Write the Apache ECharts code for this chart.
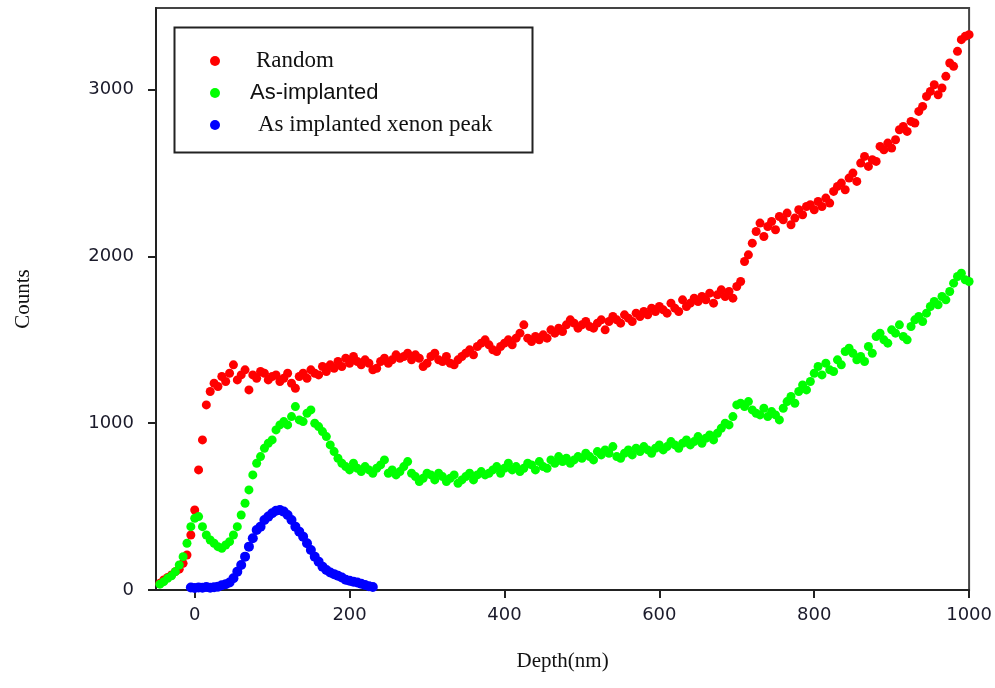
<!DOCTYPE html>
<html><head><meta charset="utf-8">
<script src="https://cdn.jsdelivr.net/npm/echarts@6/dist/echarts.min.js"></script>
<style>html,body{margin:0;padding:0;background:#fff}#c{width:995px;height:688px}</style>
</head><body><div id="c"></div>
<script>
var seriesNames = ['Random', 'As-implanted', 'As implanted xenon peak'];
var xTicks = [0, 200, 400, 600, 800, 1000];
var yTicks = [0, 1000, 2000, 3000];

var depthRG = [
 -45,-40,-35,-30,-25,-20,-15,-10,-5,0,5,10,15,20,25,30,35,40,45,50,
 55,60,65,70,75,80,85,90,95,100,105,110,115,120,125,130,135,140,145,150,
 155,160,165,170,175,180,185,190,195,200,205,210,215,220,225,230,235,240,245,250,
 255,260,265,270,275,280,285,290,295,300,305,310,315,320,325,330,335,340,345,350,
 355,360,365,370,375,380,385,390,395,400,405,410,415,420,425,430,435,440,445,450,
 455,460,465,470,475,480,485,490,495,500,505,510,515,520,525,530,535,540,545,550,
 555,560,565,570,575,580,585,590,595,600,605,610,615,620,625,630,635,640,645,650,
 655,660,665,670,675,680,685,690,695,700,705,710,715,720,725,730,735,740,745,750,
 755,760,765,770,775,780,785,790,795,800,805,810,815,820,825,830,835,840,845,850,
 855,860,865,870,875,880,885,890,895,900,905,910,915,920,925,930,935,940,945,950,
 955,960,965,970,975,980,985,990,995,1000
];
var randomCounts = [
 40,60,75,90,110,125,160,210,330,480,720,900,1110,1190,1240,1220,1280,1250,1300,1350,
 1260,1290,1320,1200,1290,1270,1310,1300,1260,1280,1290,1250,1270,1300,1240,1210,1280,1300,1270,1320,
 1300,1290,1340,1310,1350,1330,1370,1340,1390,1360,1400,1370,1350,1380,1360,1320,1330,1370,1390,1360,
 1380,1410,1390,1400,1420,1380,1410,1390,1340,1360,1400,1420,1380,1370,1400,1360,1350,1380,1400,1420,
 1440,1410,1460,1480,1500,1470,1440,1430,1460,1480,1500,1470,1510,1540,1590,1510,1490,1520,1500,1530,
 1510,1560,1540,1570,1550,1590,1620,1600,1570,1590,1610,1580,1570,1600,1620,1560,1610,1640,1620,1600,
 1650,1630,1610,1660,1640,1670,1650,1690,1670,1700,1680,1660,1720,1690,1670,1740,1700,1720,1750,1730,
 1760,1740,1780,1720,1770,1800,1760,1790,1750,1820,1850,1970,2010,2080,2150,2200,2120,2180,2210,2160,
 2240,2220,2260,2190,2230,2280,2250,2300,2310,2280,2330,2300,2350,2320,2390,2420,2440,2400,2470,2500,
 2450,2560,2600,2540,2580,2570,2660,2640,2680,2650,2700,2760,2780,2750,2810,2800,2870,2900,2960,2990,
 3030,2970,3010,3080,3160,3140,3230,3300,3320,3330
];
var implantedCounts = [
 35,50,70,85,110,150,200,280,380,430,440,380,330,300,280,260,250,270,290,330,
 380,450,520,600,690,760,800,850,880,900,960,990,1010,990,1040,1100,1020,1010,1060,1080,
 1000,980,950,920,870,830,790,760,740,720,760,730,710,740,720,700,730,750,780,700,
 720,690,710,740,770,700,680,650,670,700,690,660,700,680,650,670,690,640,660,680,
 700,660,690,710,690,700,720,740,700,730,760,720,740,710,730,760,750,720,770,740,
 730,780,760,800,770,790,760,780,800,790,820,800,780,830,810,840,820,860,800,790,
 820,840,810,850,830,860,840,820,850,870,840,860,890,870,850,880,900,870,890,920,
 880,910,930,900,940,970,1000,990,1040,1110,1120,1100,1130,1080,1060,1050,1090,1040,1070,1050,
 1020,1090,1130,1160,1120,1190,1230,1200,1250,1300,1340,1290,1360,1320,1310,1380,1350,1430,1450,1420,
 1380,1400,1370,1460,1420,1520,1540,1500,1480,1560,1540,1590,1520,1500,1580,1620,1640,1610,1660,1700,
 1730,1710,1760,1740,1790,1840,1880,1900,1860,1850
];
var depthXe = [
 -5,0,5,10,15,20,25,30,35,40,45,50,55,60,65,70,75,80,85,90,
 95,100,105,110,115,120,125,130,135,140,145,150,155,160,165,170,175,180,185,190,
 195,200,205,210,215,220,225,230
];
var xenonCounts = [
 15,12,15,14,18,14,16,20,28,35,45,70,110,150,200,260,310,360,380,420,
 440,460,475,480,470,450,420,380,350,320,280,240,200,170,140,120,105,95,85,75,
 62,55,50,45,38,30,22,18
];

function pairs(xs, ys) { var out = []; for (var i = 0; i < xs.length; i++) out.push([xs[i], ys[i]]); return out; }
function plain(v) { return String(v); }

var serif = 'Liberation Serif';
var sans = 'Liberation Sans';
var chart = echarts.init(document.getElementById('c'), null, {renderer: 'canvas'});
chart.setOption({
  animation: false,
  backgroundColor: '#ffffff',
  grid: {left: 156, right: 25, top: 8, bottom: 98, show: true, borderColor: '#444', borderWidth: 2, backgroundColor: 'transparent'},
  xAxis: {
    type: 'value', min: -50, max: 1000,
    name: 'Depth(nm)', nameLocation: 'middle', nameGap: 61,
    nameTextStyle: {fontFamily: serif, fontSize: 21, color: '#111'},
    axisLine: {show: true, onZero: false, lineStyle: {color: '#222', width: 2}},
    axisTick: {show: true, inside: false, length: 8, lineStyle: {color: '#222', width: 2}, customValues: xTicks},
    axisLabel: {fontFamily: 'DejaVu Sans', fontSize: 18, color: '#1a1a2a', margin: 16, customValues: xTicks, formatter: plain},
    splitLine: {show: false}
  },
  yAxis: {
    type: 'value', min: 0, max: 3490,
    name: 'Counts', nameLocation: 'middle', nameGap: 122, nameRotate: 90,
    nameTextStyle: {fontFamily: serif, fontSize: 21, color: '#111'},
    axisLine: {show: true, onZero: false, lineStyle: {color: '#222', width: 2}},
    axisTick: {show: true, inside: false, length: 8, lineStyle: {color: '#222', width: 2}, customValues: yTicks},
    axisLabel: {fontFamily: 'DejaVu Sans', fontSize: 18, color: '#1a1a2a', margin: 22, customValues: yTicks, formatter: plain},
    splitLine: {show: false}
  },
  legend: {
    orient: 'vertical', left: 205, top: 44, itemWidth: 12, itemHeight: 10, itemGap: 8,
    textStyle: {fontFamily: serif, fontSize: 23, color: '#111', lineHeight: 24},
    data: [
      {name: seriesNames[0], icon: 'circle', textStyle: {fontFamily: serif, fontSize: 23, padding: [0, 0, 0, 30]}},
      {name: seriesNames[1], icon: 'circle', textStyle: {fontFamily: sans, fontSize: 22, padding: [0, 0, 0, 24]}},
      {name: seriesNames[2], icon: 'circle', textStyle: {fontFamily: serif, fontSize: 23, padding: [0, 0, 0, 32]}}
    ]
  },
  graphic: [{
    type: 'rect', left: 172, top: 25, z: 100, silent: true,
    shape: {width: 358, height: 125},
    style: {fill: 'none', stroke: '#222', lineWidth: 2}
  }],
  series: [
    {name: seriesNames[0], type: 'scatter', symbol: 'circle', symbolSize: 9,
     itemStyle: {color: '#ff0000', opacity: 1}, data: pairs(depthRG, randomCounts)},
    {name: seriesNames[1], type: 'scatter', symbol: 'circle', symbolSize: 9,
     itemStyle: {color: '#00ff00', opacity: 1}, data: pairs(depthRG, implantedCounts)},
    {name: seriesNames[2], type: 'scatter', symbol: 'circle', symbolSize: 10,
     itemStyle: {color: '#0000ff', opacity: 1}, data: pairs(depthXe, xenonCounts)}
  ]
});
</script>
</body></html>
